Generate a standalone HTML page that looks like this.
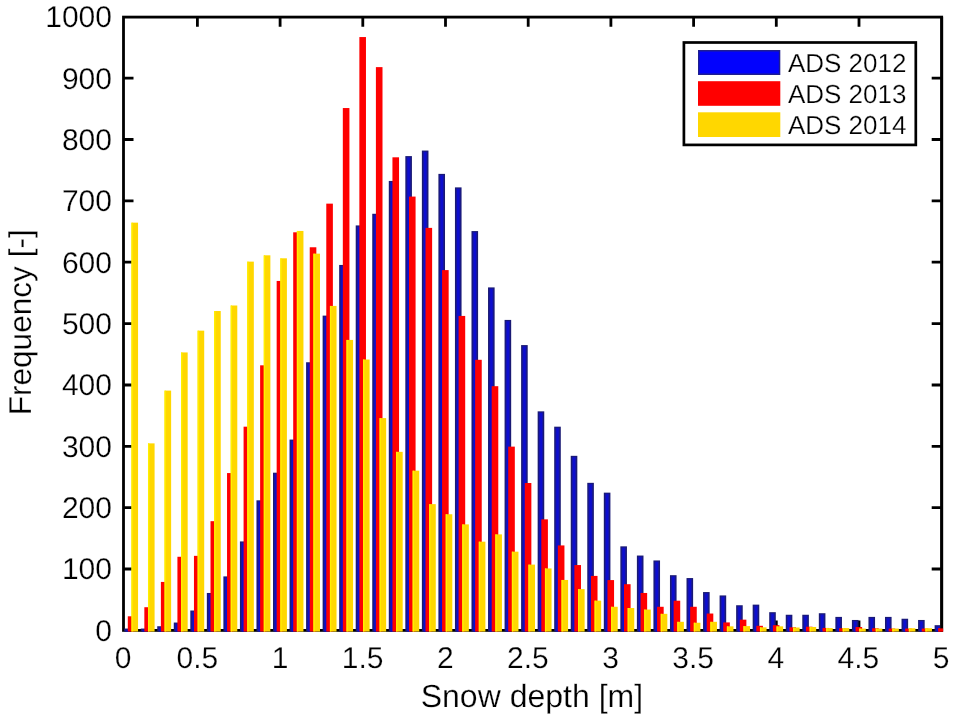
<!DOCTYPE html>
<html lang="en"><head><meta charset="utf-8"><title>Snow depth histogram</title>
<style>html,body{margin:0;padding:0;background:#fff}svg{display:block}text{text-rendering:geometricPrecision;stroke:#fff;stroke-width:0.25px;font-family:"Liberation Sans",Arial,Helvetica,sans-serif;fill:#000}</style></head><body>
<svg width="957" height="719" viewBox="0 0 957 719">
<rect width="957" height="719" fill="#fff"/>
<g stroke="#000" stroke-width="2.8" fill="none">
<path d="M197.4 630.4V620.4M197.4 17.1V26.8"/>
<path d="M280.1 630.4V620.4M280.1 17.1V26.8"/>
<path d="M362.8 630.4V620.4M362.8 17.1V26.8"/>
<path d="M445.5 630.4V620.4M445.5 17.1V26.8"/>
<path d="M528.2 630.4V620.4M528.2 17.1V26.8"/>
<path d="M610.9 630.4V620.4M610.9 17.1V26.8"/>
<path d="M693.6 630.4V620.4M693.6 17.1V26.8"/>
<path d="M776.3 630.4V620.4M776.3 17.1V26.8"/>
<path d="M859.0 630.4V620.4M859.0 17.1V26.8"/>
<path d="M123.5 569.0H133.5M941.7 569.0H931.7"/>
<path d="M123.5 507.7H133.5M941.7 507.7H931.7"/>
<path d="M123.5 446.3H133.5M941.7 446.3H931.7"/>
<path d="M123.5 385.0H133.5M941.7 385.0H931.7"/>
<path d="M123.5 323.6H133.5M941.7 323.6H931.7"/>
<path d="M123.5 262.2H133.5M941.7 262.2H931.7"/>
<path d="M123.5 200.9H133.5M941.7 200.9H931.7"/>
<path d="M123.5 139.5H133.5M941.7 139.5H931.7"/>
<path d="M123.5 78.2H133.5M941.7 78.2H931.7"/>
<rect x="123.5" y="17.1" width="818.2" height="613.3"/>
</g>
<defs><clipPath id="c"><rect x="122.1" y="0" width="818.4" height="631.8"/></clipPath></defs>
<g clip-path="url(#c)">
<rect x="124.15" y="628.56" width="6.60" height="3.14" fill="#1a1a74"/>
<rect x="125.35" y="629.56" width="4.20" height="2.14" fill="#1717a4"/>
<rect x="126.25" y="630.26" width="2.40" height="1.44" fill="#0d0dd0"/>
<rect x="127.80" y="616.29" width="6.60" height="15.41" fill="#fe0000"/>
<rect x="131.45" y="222.66" width="6.60" height="409.04" fill="#ffd700"/>
<rect x="131.45" y="222.66" width="1.3" height="409.04" fill="#fff000"/>
<rect x="140.69" y="628.56" width="6.60" height="3.14" fill="#1a1a74"/>
<rect x="141.89" y="629.56" width="4.20" height="2.14" fill="#1717a4"/>
<rect x="142.79" y="630.26" width="2.40" height="1.44" fill="#0d0dd0"/>
<rect x="144.34" y="607.21" width="6.60" height="24.49" fill="#fe0000"/>
<rect x="147.99" y="443.37" width="6.60" height="188.33" fill="#ffd700"/>
<rect x="147.99" y="443.37" width="1.3" height="188.33" fill="#fff000"/>
<rect x="157.23" y="626.23" width="6.60" height="5.47" fill="#1a1a74"/>
<rect x="158.43" y="627.23" width="4.20" height="4.47" fill="#1717a4"/>
<rect x="159.33" y="627.93" width="2.40" height="3.77" fill="#0d0dd0"/>
<rect x="160.88" y="581.93" width="6.60" height="49.77" fill="#fe0000"/>
<rect x="164.53" y="390.61" width="6.60" height="241.09" fill="#ffd700"/>
<rect x="164.53" y="390.61" width="1.3" height="241.09" fill="#fff000"/>
<rect x="173.77" y="622.55" width="6.60" height="9.15" fill="#1a1a74"/>
<rect x="174.97" y="623.55" width="4.20" height="8.15" fill="#1717a4"/>
<rect x="175.87" y="624.25" width="2.40" height="7.45" fill="#0d0dd0"/>
<rect x="177.42" y="556.77" width="6.60" height="74.93" fill="#fe0000"/>
<rect x="181.07" y="352.44" width="6.60" height="279.26" fill="#ffd700"/>
<rect x="181.07" y="352.44" width="1.3" height="279.26" fill="#fff000"/>
<rect x="190.31" y="610.52" width="6.60" height="21.18" fill="#1a1a74"/>
<rect x="191.51" y="611.52" width="4.20" height="20.18" fill="#1717a4"/>
<rect x="192.41" y="612.22" width="2.40" height="19.48" fill="#0d0dd0"/>
<rect x="193.96" y="555.85" width="6.60" height="75.85" fill="#fe0000"/>
<rect x="197.61" y="330.66" width="6.60" height="301.04" fill="#ffd700"/>
<rect x="197.61" y="330.66" width="1.3" height="301.04" fill="#fff000"/>
<rect x="206.85" y="592.97" width="6.60" height="38.73" fill="#1a1a74"/>
<rect x="208.05" y="593.97" width="4.20" height="37.73" fill="#1717a4"/>
<rect x="208.95" y="594.67" width="2.40" height="37.03" fill="#0d0dd0"/>
<rect x="210.50" y="521.18" width="6.60" height="110.52" fill="#fe0000"/>
<rect x="214.15" y="311.02" width="6.60" height="320.68" fill="#ffd700"/>
<rect x="214.15" y="311.02" width="1.3" height="320.68" fill="#fff000"/>
<rect x="223.39" y="576.40" width="6.60" height="55.30" fill="#1a1a74"/>
<rect x="224.59" y="577.40" width="4.20" height="54.30" fill="#1717a4"/>
<rect x="225.49" y="578.10" width="2.40" height="53.60" fill="#0d0dd0"/>
<rect x="227.04" y="473.07" width="6.60" height="158.63" fill="#fe0000"/>
<rect x="230.69" y="305.50" width="6.60" height="326.20" fill="#ffd700"/>
<rect x="230.69" y="305.50" width="1.3" height="326.20" fill="#fff000"/>
<rect x="239.93" y="541.43" width="6.60" height="90.27" fill="#1a1a74"/>
<rect x="241.13" y="542.43" width="4.20" height="89.27" fill="#1717a4"/>
<rect x="242.03" y="543.13" width="2.40" height="88.57" fill="#0d0dd0"/>
<rect x="243.58" y="426.68" width="6.60" height="205.02" fill="#fe0000"/>
<rect x="247.23" y="261.63" width="6.60" height="370.07" fill="#ffd700"/>
<rect x="247.23" y="261.63" width="1.3" height="370.07" fill="#fff000"/>
<rect x="256.47" y="500.32" width="6.60" height="131.38" fill="#1a1a74"/>
<rect x="257.67" y="501.32" width="4.20" height="130.38" fill="#1717a4"/>
<rect x="258.57" y="502.02" width="2.40" height="129.68" fill="#0d0dd0"/>
<rect x="260.12" y="365.32" width="6.60" height="266.38" fill="#fe0000"/>
<rect x="263.77" y="255.31" width="6.60" height="376.39" fill="#ffd700"/>
<rect x="263.77" y="255.31" width="1.3" height="376.39" fill="#fff000"/>
<rect x="273.01" y="472.70" width="6.60" height="159.00" fill="#1a1a74"/>
<rect x="274.21" y="473.70" width="4.20" height="158.00" fill="#1717a4"/>
<rect x="275.11" y="474.40" width="2.40" height="157.30" fill="#0d0dd0"/>
<rect x="276.66" y="280.95" width="6.60" height="350.75" fill="#fe0000"/>
<rect x="280.31" y="258.31" width="6.60" height="373.39" fill="#ffd700"/>
<rect x="280.31" y="258.31" width="1.3" height="373.39" fill="#fff000"/>
<rect x="289.55" y="439.57" width="6.60" height="192.13" fill="#1a1a74"/>
<rect x="290.75" y="440.57" width="4.20" height="191.13" fill="#1717a4"/>
<rect x="291.65" y="441.27" width="2.40" height="190.43" fill="#0d0dd0"/>
<rect x="293.20" y="232.30" width="6.60" height="399.40" fill="#fe0000"/>
<rect x="296.85" y="230.95" width="6.60" height="400.75" fill="#ffd700"/>
<rect x="296.85" y="230.95" width="1.3" height="400.75" fill="#fff000"/>
<rect x="306.09" y="362.26" width="6.60" height="269.44" fill="#1a1a74"/>
<rect x="307.29" y="363.26" width="4.20" height="268.44" fill="#1717a4"/>
<rect x="308.19" y="363.96" width="2.40" height="267.74" fill="#0d0dd0"/>
<rect x="309.74" y="247.27" width="6.60" height="384.43" fill="#fe0000"/>
<rect x="313.39" y="253.65" width="6.60" height="378.05" fill="#ffd700"/>
<rect x="313.39" y="253.65" width="1.3" height="378.05" fill="#fff000"/>
<rect x="322.63" y="315.62" width="6.60" height="316.08" fill="#1a1a74"/>
<rect x="323.83" y="316.62" width="4.20" height="315.08" fill="#1717a4"/>
<rect x="324.73" y="317.32" width="2.40" height="314.38" fill="#0d0dd0"/>
<rect x="326.28" y="203.64" width="6.60" height="428.06" fill="#fe0000"/>
<rect x="329.93" y="305.93" width="6.60" height="325.77" fill="#ffd700"/>
<rect x="329.93" y="305.93" width="1.3" height="325.77" fill="#fff000"/>
<rect x="339.17" y="264.94" width="6.60" height="366.76" fill="#1a1a74"/>
<rect x="340.37" y="265.94" width="4.20" height="365.76" fill="#1717a4"/>
<rect x="341.27" y="266.64" width="2.40" height="365.06" fill="#0d0dd0"/>
<rect x="342.82" y="108.04" width="6.60" height="523.66" fill="#fe0000"/>
<rect x="346.47" y="339.92" width="6.60" height="291.78" fill="#ffd700"/>
<rect x="346.47" y="339.92" width="1.3" height="291.78" fill="#fff000"/>
<rect x="355.71" y="225.42" width="6.60" height="406.28" fill="#1a1a74"/>
<rect x="356.91" y="226.42" width="4.20" height="405.28" fill="#1717a4"/>
<rect x="357.81" y="227.12" width="2.40" height="404.58" fill="#0d0dd0"/>
<rect x="359.36" y="37.05" width="6.60" height="594.65" fill="#fe0000"/>
<rect x="363.01" y="359.50" width="6.60" height="272.20" fill="#ffd700"/>
<rect x="363.01" y="359.50" width="1.3" height="272.20" fill="#fff000"/>
<rect x="372.25" y="213.77" width="6.60" height="417.93" fill="#1a1a74"/>
<rect x="373.45" y="214.77" width="4.20" height="416.93" fill="#1717a4"/>
<rect x="374.35" y="215.47" width="2.40" height="416.23" fill="#0d0dd0"/>
<rect x="375.90" y="67.12" width="6.60" height="564.58" fill="#fe0000"/>
<rect x="379.55" y="418.09" width="6.60" height="213.61" fill="#ffd700"/>
<rect x="379.55" y="418.09" width="1.3" height="213.61" fill="#fff000"/>
<rect x="388.79" y="180.94" width="6.60" height="450.76" fill="#1a1a74"/>
<rect x="389.99" y="181.94" width="4.20" height="449.76" fill="#1717a4"/>
<rect x="390.89" y="182.64" width="2.40" height="449.06" fill="#0d0dd0"/>
<rect x="392.44" y="157.31" width="6.60" height="474.39" fill="#fe0000"/>
<rect x="396.09" y="451.84" width="6.60" height="179.86" fill="#ffd700"/>
<rect x="396.09" y="451.84" width="1.3" height="179.86" fill="#fff000"/>
<rect x="405.33" y="156.09" width="6.60" height="475.61" fill="#1a1a74"/>
<rect x="406.53" y="157.09" width="4.20" height="474.61" fill="#1717a4"/>
<rect x="407.43" y="157.79" width="2.40" height="473.91" fill="#0d0dd0"/>
<rect x="408.98" y="196.58" width="6.60" height="435.12" fill="#fe0000"/>
<rect x="412.63" y="470.68" width="6.60" height="161.02" fill="#ffd700"/>
<rect x="412.63" y="470.68" width="1.3" height="161.02" fill="#fff000"/>
<rect x="421.87" y="150.56" width="6.60" height="481.14" fill="#1a1a74"/>
<rect x="423.07" y="151.56" width="4.20" height="480.14" fill="#1717a4"/>
<rect x="423.97" y="152.26" width="2.40" height="479.44" fill="#0d0dd0"/>
<rect x="425.52" y="227.88" width="6.60" height="403.82" fill="#fe0000"/>
<rect x="429.17" y="504.12" width="6.60" height="127.58" fill="#ffd700"/>
<rect x="429.17" y="504.12" width="1.3" height="127.58" fill="#fff000"/>
<rect x="438.41" y="173.88" width="6.60" height="457.82" fill="#1a1a74"/>
<rect x="439.61" y="174.88" width="4.20" height="456.82" fill="#1717a4"/>
<rect x="440.51" y="175.58" width="2.40" height="456.12" fill="#0d0dd0"/>
<rect x="442.06" y="270.09" width="6.60" height="361.61" fill="#fe0000"/>
<rect x="445.71" y="514.25" width="6.60" height="117.45" fill="#ffd700"/>
<rect x="445.71" y="514.25" width="1.3" height="117.45" fill="#fff000"/>
<rect x="454.95" y="187.38" width="6.60" height="444.32" fill="#1a1a74"/>
<rect x="456.15" y="188.38" width="4.20" height="443.32" fill="#1717a4"/>
<rect x="457.05" y="189.08" width="2.40" height="442.62" fill="#0d0dd0"/>
<rect x="458.60" y="315.93" width="6.60" height="315.77" fill="#fe0000"/>
<rect x="462.25" y="524.37" width="6.60" height="107.33" fill="#ffd700"/>
<rect x="462.25" y="524.37" width="1.3" height="107.33" fill="#fff000"/>
<rect x="471.49" y="231.07" width="6.60" height="400.63" fill="#1a1a74"/>
<rect x="472.69" y="232.07" width="4.20" height="399.63" fill="#1717a4"/>
<rect x="473.59" y="232.77" width="2.40" height="398.93" fill="#0d0dd0"/>
<rect x="475.14" y="359.80" width="6.60" height="271.90" fill="#fe0000"/>
<rect x="478.79" y="541.67" width="6.60" height="90.03" fill="#ffd700"/>
<rect x="478.79" y="541.67" width="1.3" height="90.03" fill="#fff000"/>
<rect x="488.03" y="287.40" width="6.60" height="344.30" fill="#1a1a74"/>
<rect x="489.23" y="288.40" width="4.20" height="343.30" fill="#1717a4"/>
<rect x="490.13" y="289.10" width="2.40" height="342.60" fill="#0d0dd0"/>
<rect x="491.68" y="386.19" width="6.60" height="245.51" fill="#fe0000"/>
<rect x="495.33" y="534.37" width="6.60" height="97.33" fill="#ffd700"/>
<rect x="495.33" y="534.37" width="1.3" height="97.33" fill="#fff000"/>
<rect x="504.57" y="319.92" width="6.60" height="311.78" fill="#1a1a74"/>
<rect x="505.77" y="320.92" width="4.20" height="310.78" fill="#1717a4"/>
<rect x="506.67" y="321.62" width="2.40" height="310.08" fill="#0d0dd0"/>
<rect x="508.22" y="446.63" width="6.60" height="185.07" fill="#fe0000"/>
<rect x="511.87" y="551.68" width="6.60" height="80.02" fill="#ffd700"/>
<rect x="511.87" y="551.68" width="1.3" height="80.02" fill="#fff000"/>
<rect x="521.11" y="345.08" width="6.60" height="286.62" fill="#1a1a74"/>
<rect x="522.31" y="346.08" width="4.20" height="285.62" fill="#1717a4"/>
<rect x="523.21" y="346.78" width="2.40" height="284.92" fill="#0d0dd0"/>
<rect x="524.76" y="483.01" width="6.60" height="148.69" fill="#fe0000"/>
<rect x="528.41" y="564.62" width="6.60" height="67.08" fill="#ffd700"/>
<rect x="528.41" y="564.62" width="1.3" height="67.08" fill="#fff000"/>
<rect x="537.65" y="411.34" width="6.60" height="220.36" fill="#1a1a74"/>
<rect x="538.85" y="412.34" width="4.20" height="219.36" fill="#1717a4"/>
<rect x="539.75" y="413.04" width="2.40" height="218.66" fill="#0d0dd0"/>
<rect x="541.30" y="519.34" width="6.60" height="112.36" fill="#fe0000"/>
<rect x="544.95" y="568.43" width="6.60" height="63.27" fill="#ffd700"/>
<rect x="544.95" y="568.43" width="1.3" height="63.27" fill="#fff000"/>
<rect x="554.19" y="426.68" width="6.60" height="205.02" fill="#1a1a74"/>
<rect x="555.39" y="427.68" width="4.20" height="204.02" fill="#1717a4"/>
<rect x="556.29" y="428.38" width="2.40" height="203.32" fill="#0d0dd0"/>
<rect x="557.84" y="545.42" width="6.60" height="86.28" fill="#fe0000"/>
<rect x="561.49" y="579.96" width="6.60" height="51.74" fill="#ffd700"/>
<rect x="561.49" y="579.96" width="1.3" height="51.74" fill="#fff000"/>
<rect x="570.73" y="455.83" width="6.60" height="175.87" fill="#1a1a74"/>
<rect x="571.93" y="456.83" width="4.20" height="174.87" fill="#1717a4"/>
<rect x="572.83" y="457.53" width="2.40" height="174.17" fill="#0d0dd0"/>
<rect x="574.38" y="565.05" width="6.60" height="66.65" fill="#fe0000"/>
<rect x="578.03" y="589.10" width="6.60" height="42.60" fill="#ffd700"/>
<rect x="578.03" y="589.10" width="1.3" height="42.60" fill="#fff000"/>
<rect x="587.27" y="482.83" width="6.60" height="148.87" fill="#1a1a74"/>
<rect x="588.47" y="483.83" width="4.20" height="147.87" fill="#1717a4"/>
<rect x="589.37" y="484.53" width="2.40" height="147.17" fill="#0d0dd0"/>
<rect x="590.92" y="575.91" width="6.60" height="55.79" fill="#fe0000"/>
<rect x="594.57" y="600.64" width="6.60" height="31.06" fill="#ffd700"/>
<rect x="594.57" y="600.64" width="1.3" height="31.06" fill="#fff000"/>
<rect x="603.81" y="492.65" width="6.60" height="139.05" fill="#1a1a74"/>
<rect x="605.01" y="493.65" width="4.20" height="138.05" fill="#1717a4"/>
<rect x="605.91" y="494.35" width="2.40" height="137.35" fill="#0d0dd0"/>
<rect x="607.46" y="580.08" width="6.60" height="51.62" fill="#fe0000"/>
<rect x="611.11" y="606.78" width="6.60" height="24.92" fill="#ffd700"/>
<rect x="611.11" y="606.78" width="1.3" height="24.92" fill="#fff000"/>
<rect x="620.35" y="546.34" width="6.60" height="85.36" fill="#1a1a74"/>
<rect x="621.55" y="547.34" width="4.20" height="84.36" fill="#1717a4"/>
<rect x="622.45" y="548.04" width="2.40" height="83.66" fill="#0d0dd0"/>
<rect x="624.00" y="584.20" width="6.60" height="47.50" fill="#fe0000"/>
<rect x="627.65" y="608.00" width="6.60" height="23.70" fill="#ffd700"/>
<rect x="627.65" y="608.00" width="1.3" height="23.70" fill="#fff000"/>
<rect x="636.89" y="555.54" width="6.60" height="76.16" fill="#1a1a74"/>
<rect x="638.09" y="556.54" width="4.20" height="75.16" fill="#1717a4"/>
<rect x="638.99" y="557.24" width="2.40" height="74.46" fill="#0d0dd0"/>
<rect x="640.54" y="592.97" width="6.60" height="38.73" fill="#fe0000"/>
<rect x="644.19" y="609.54" width="6.60" height="22.16" fill="#ffd700"/>
<rect x="644.19" y="609.54" width="1.3" height="22.16" fill="#fff000"/>
<rect x="653.43" y="560.45" width="6.60" height="71.25" fill="#1a1a74"/>
<rect x="654.63" y="561.45" width="4.20" height="70.25" fill="#1717a4"/>
<rect x="655.53" y="562.15" width="2.40" height="69.55" fill="#0d0dd0"/>
<rect x="657.08" y="606.78" width="6.60" height="24.92" fill="#fe0000"/>
<rect x="660.73" y="613.83" width="6.60" height="17.87" fill="#ffd700"/>
<rect x="660.73" y="613.83" width="1.3" height="17.87" fill="#fff000"/>
<rect x="669.97" y="575.18" width="6.60" height="56.52" fill="#1a1a74"/>
<rect x="671.17" y="576.18" width="4.20" height="55.52" fill="#1717a4"/>
<rect x="672.07" y="576.88" width="2.40" height="54.82" fill="#0d0dd0"/>
<rect x="673.62" y="600.70" width="6.60" height="31.00" fill="#fe0000"/>
<rect x="677.27" y="621.81" width="6.60" height="9.89" fill="#ffd700"/>
<rect x="677.27" y="621.81" width="1.3" height="9.89" fill="#fff000"/>
<rect x="686.51" y="578.06" width="6.60" height="53.64" fill="#1a1a74"/>
<rect x="687.71" y="579.06" width="4.20" height="52.64" fill="#1717a4"/>
<rect x="688.61" y="579.76" width="2.40" height="51.94" fill="#0d0dd0"/>
<rect x="690.16" y="606.78" width="6.60" height="24.92" fill="#fe0000"/>
<rect x="693.81" y="622.73" width="6.60" height="8.97" fill="#ffd700"/>
<rect x="693.81" y="622.73" width="1.3" height="8.97" fill="#fff000"/>
<rect x="703.05" y="592.05" width="6.60" height="39.65" fill="#1a1a74"/>
<rect x="704.25" y="593.05" width="4.20" height="38.65" fill="#1717a4"/>
<rect x="705.15" y="593.75" width="2.40" height="37.95" fill="#0d0dd0"/>
<rect x="706.70" y="613.53" width="6.60" height="18.17" fill="#fe0000"/>
<rect x="710.35" y="621.81" width="6.60" height="9.89" fill="#ffd700"/>
<rect x="710.35" y="621.81" width="1.3" height="9.89" fill="#fff000"/>
<rect x="719.59" y="595.42" width="6.60" height="36.28" fill="#1a1a74"/>
<rect x="720.79" y="596.42" width="4.20" height="35.28" fill="#1717a4"/>
<rect x="721.69" y="597.12" width="2.40" height="34.58" fill="#0d0dd0"/>
<rect x="723.24" y="622.42" width="6.60" height="9.28" fill="#fe0000"/>
<rect x="726.89" y="626.35" width="6.60" height="5.35" fill="#ffd700"/>
<rect x="726.89" y="626.35" width="1.3" height="5.35" fill="#fff000"/>
<rect x="736.13" y="605.24" width="6.60" height="26.46" fill="#1a1a74"/>
<rect x="737.33" y="606.24" width="4.20" height="25.46" fill="#1717a4"/>
<rect x="738.23" y="606.94" width="2.40" height="24.76" fill="#0d0dd0"/>
<rect x="739.78" y="619.66" width="6.60" height="12.04" fill="#fe0000"/>
<rect x="743.43" y="626.10" width="6.60" height="5.60" fill="#ffd700"/>
<rect x="743.43" y="626.10" width="1.3" height="5.60" fill="#fff000"/>
<rect x="752.67" y="604.63" width="6.60" height="27.07" fill="#1a1a74"/>
<rect x="753.87" y="605.63" width="4.20" height="26.07" fill="#1717a4"/>
<rect x="754.77" y="606.33" width="2.40" height="25.37" fill="#0d0dd0"/>
<rect x="756.32" y="625.80" width="6.60" height="5.90" fill="#fe0000"/>
<rect x="759.97" y="627.33" width="6.60" height="4.37" fill="#ffd700"/>
<rect x="759.97" y="627.33" width="1.3" height="4.37" fill="#fff000"/>
<rect x="769.21" y="612.18" width="6.60" height="19.52" fill="#1a1a74"/>
<rect x="770.41" y="613.18" width="4.20" height="18.52" fill="#1717a4"/>
<rect x="771.31" y="613.88" width="2.40" height="17.82" fill="#0d0dd0"/>
<rect x="772.86" y="625.18" width="6.60" height="6.52" fill="#fe0000"/>
<rect x="776.51" y="626.35" width="6.60" height="5.35" fill="#ffd700"/>
<rect x="776.51" y="626.35" width="1.3" height="5.35" fill="#fff000"/>
<rect x="785.75" y="614.75" width="6.60" height="16.95" fill="#1a1a74"/>
<rect x="786.95" y="615.75" width="4.20" height="15.95" fill="#1717a4"/>
<rect x="787.85" y="616.45" width="2.40" height="15.25" fill="#0d0dd0"/>
<rect x="789.40" y="627.33" width="6.60" height="4.37" fill="#fe0000"/>
<rect x="793.05" y="627.52" width="6.60" height="4.18" fill="#ffd700"/>
<rect x="793.05" y="627.52" width="1.3" height="4.18" fill="#fff000"/>
<rect x="802.29" y="614.75" width="6.60" height="16.95" fill="#1a1a74"/>
<rect x="803.49" y="615.75" width="4.20" height="15.95" fill="#1717a4"/>
<rect x="804.39" y="616.45" width="2.40" height="15.25" fill="#0d0dd0"/>
<rect x="805.94" y="626.72" width="6.60" height="4.98" fill="#fe0000"/>
<rect x="809.59" y="626.96" width="6.60" height="4.74" fill="#ffd700"/>
<rect x="809.59" y="626.96" width="1.3" height="4.74" fill="#fff000"/>
<rect x="818.83" y="613.22" width="6.60" height="18.48" fill="#1a1a74"/>
<rect x="820.03" y="614.22" width="4.20" height="17.48" fill="#1717a4"/>
<rect x="820.93" y="614.92" width="2.40" height="16.78" fill="#0d0dd0"/>
<rect x="822.48" y="627.95" width="6.60" height="3.75" fill="#fe0000"/>
<rect x="826.13" y="628.07" width="6.60" height="3.63" fill="#ffd700"/>
<rect x="826.13" y="628.07" width="1.3" height="3.63" fill="#fff000"/>
<rect x="835.37" y="616.90" width="6.60" height="14.80" fill="#1a1a74"/>
<rect x="836.57" y="617.90" width="4.20" height="13.80" fill="#1717a4"/>
<rect x="837.47" y="618.60" width="2.40" height="13.10" fill="#0d0dd0"/>
<rect x="839.02" y="628.25" width="6.60" height="3.45" fill="#fe0000"/>
<rect x="842.67" y="628.07" width="6.60" height="3.63" fill="#ffd700"/>
<rect x="842.67" y="628.07" width="1.3" height="3.63" fill="#fff000"/>
<rect x="851.91" y="619.97" width="6.60" height="11.73" fill="#1a1a74"/>
<rect x="853.11" y="620.97" width="4.20" height="10.73" fill="#1717a4"/>
<rect x="854.01" y="621.67" width="2.40" height="10.03" fill="#0d0dd0"/>
<rect x="855.56" y="627.03" width="6.60" height="4.67" fill="#fe0000"/>
<rect x="859.21" y="628.56" width="6.60" height="3.14" fill="#ffd700"/>
<rect x="859.21" y="628.56" width="1.3" height="3.14" fill="#fff000"/>
<rect x="868.45" y="616.90" width="6.60" height="14.80" fill="#1a1a74"/>
<rect x="869.65" y="617.90" width="4.20" height="13.80" fill="#1717a4"/>
<rect x="870.55" y="618.60" width="2.40" height="13.10" fill="#0d0dd0"/>
<rect x="872.10" y="628.25" width="6.60" height="3.45" fill="#fe0000"/>
<rect x="875.75" y="628.56" width="6.60" height="3.14" fill="#ffd700"/>
<rect x="875.75" y="628.56" width="1.3" height="3.14" fill="#fff000"/>
<rect x="884.99" y="616.90" width="6.60" height="14.80" fill="#1a1a74"/>
<rect x="886.19" y="617.90" width="4.20" height="13.80" fill="#1717a4"/>
<rect x="887.09" y="618.60" width="2.40" height="13.10" fill="#0d0dd0"/>
<rect x="888.64" y="628.56" width="6.60" height="3.14" fill="#fe0000"/>
<rect x="892.29" y="628.56" width="6.60" height="3.14" fill="#ffd700"/>
<rect x="892.29" y="628.56" width="1.3" height="3.14" fill="#fff000"/>
<rect x="901.53" y="618.74" width="6.60" height="12.96" fill="#1a1a74"/>
<rect x="902.73" y="619.74" width="4.20" height="11.96" fill="#1717a4"/>
<rect x="903.63" y="620.44" width="2.40" height="11.26" fill="#0d0dd0"/>
<rect x="905.18" y="628.56" width="6.60" height="3.14" fill="#fe0000"/>
<rect x="908.83" y="628.25" width="6.60" height="3.45" fill="#ffd700"/>
<rect x="908.83" y="628.25" width="1.3" height="3.45" fill="#fff000"/>
<rect x="918.07" y="619.97" width="6.60" height="11.73" fill="#1a1a74"/>
<rect x="919.27" y="620.97" width="4.20" height="10.73" fill="#1717a4"/>
<rect x="920.17" y="621.67" width="2.40" height="10.03" fill="#0d0dd0"/>
<rect x="921.72" y="628.56" width="6.60" height="3.14" fill="#fe0000"/>
<rect x="925.37" y="628.25" width="6.60" height="3.45" fill="#ffd700"/>
<rect x="925.37" y="628.25" width="1.3" height="3.45" fill="#fff000"/>
<rect x="934.61" y="625.18" width="6.60" height="6.52" fill="#1a1a74"/>
<rect x="935.81" y="626.18" width="4.20" height="5.52" fill="#1717a4"/>
<rect x="936.71" y="626.88" width="2.40" height="4.82" fill="#0d0dd0"/>
<rect x="938.26" y="628.25" width="6.60" height="3.45" fill="#fe0000"/>
</g>
<path d="M941.7 17.1V631.8" stroke="#000" stroke-width="2.8"/>
<rect x="938.4" y="628.4" width="4.7" height="3.3" fill="#fe0000"/>
<rect x="683.9" y="42.5" width="231.9" height="102.4" fill="#fff" stroke="#000" stroke-width="2.7"/>
<rect x="698" y="50" width="82.3" height="25" fill="#1e1e90"/><rect x="699.5" y="51.5" width="79.3" height="22.0" fill="#0202fd"/>
<rect x="698" y="81.2" width="82.3" height="24.6" fill="#ff0000"/>
<rect x="698" y="112.3" width="82.3" height="24.7" fill="#ffd700"/>
<g font-size="26px">
<text x="787.9" y="72.2">ADS 2012</text>
<text x="787.9" y="103.1">ADS 2013</text>
<text x="787.9" y="134.0">ADS 2014</text>
</g>
<g font-size="30px" text-anchor="end">
<text x="112" y="640.7">0</text>
<text x="112" y="579.3">100</text>
<text x="112" y="518.0">200</text>
<text x="112" y="456.6">300</text>
<text x="112" y="395.3">400</text>
<text x="112" y="333.9">500</text>
<text x="112" y="272.5">600</text>
<text x="112" y="211.2">700</text>
<text x="112" y="149.8">800</text>
<text x="112" y="88.5">900</text>
<text x="112" y="27.1">1000</text>
</g>
<g font-size="30px" text-anchor="middle">
<text x="123.0" y="667.9">0</text>
<text x="197.4" y="667.9">0.5</text>
<text x="280.1" y="667.9">1</text>
<text x="362.7" y="667.9">1.5</text>
<text x="445.3" y="667.9">2</text>
<text x="527.9" y="667.9">2.5</text>
<text x="610.5" y="667.9">3</text>
<text x="693.2" y="667.9">3.5</text>
<text x="775.8" y="667.9">4</text>
<text x="858.4" y="667.9">4.5</text>
<text x="941.0" y="667.9">5</text>
</g>
<text x="531.9" y="706.7" font-size="32px" text-anchor="middle">Snow depth [m]</text>
<text transform="translate(31.1 322.3) rotate(-90)" font-size="31.6px" text-anchor="middle">Frequency [-]</text>
</svg></body></html>
